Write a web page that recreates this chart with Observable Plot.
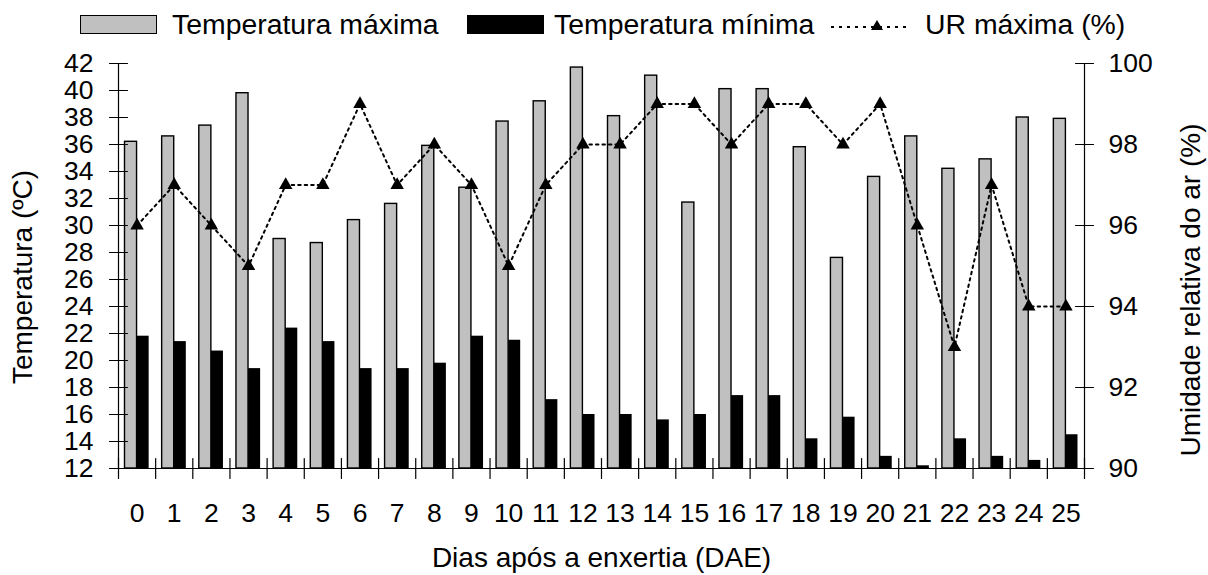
<!DOCTYPE html>
<html><head><meta charset="utf-8">
<script src="https://cdn.jsdelivr.net/npm/d3@7"></script>
<script src="https://cdn.jsdelivr.net/npm/@observablehq/plot@0.6"></script>
<style>
body{margin:0;background:#fff;font-family:"Liberation Sans",Arial,sans-serif;color:#000;}
#legend{position:relative;height:48px;width:1208px;font-size:28.4px;}
.item{position:absolute;top:0;height:48px;display:flex;align-items:center;white-space:nowrap;}
.sw{width:77px;height:19px;box-sizing:border-box;border:1.5px solid #000;}
</style></head><body>
<div id="legend">
  <div class="item" style="left:80px"><div class="sw" style="background:#c0c0c0;margin-right:15px"></div><span>Temperatura máxima</span></div>
  <div class="item" style="left:467px"><div class="sw" style="background:#000;margin-right:10px"></div><span>Temperatura mínima</span></div>
  <div class="item" style="left:830px"><svg width="82" height="20" style="margin-right:13px"><line x1="1" y1="13" x2="81" y2="13" stroke="#000" stroke-width="2" stroke-dasharray="3,5"/><path d="M47,6 L53,16 L41,16 Z" fill="#000"/></svg><span>UR máxima (%)</span></div>
</div>
<div id="chart"></div>
<script>
const days = [0,1,2,3,4,5,6,7,8,9,10,11,12,13,14,15,16,17,18,19,20,21,22,23,24,25];
const tMax = [36.2,36.6,37.4,39.8,29.0,28.7,30.4,31.6,35.9,32.8,37.7,39.2,41.7,38.1,41.1,31.7,40.1,40.1,35.8,27.6,33.6,36.6,34.2,34.9,38.0,37.9];
const tMin = [21.8,21.4,20.7,19.4,22.4,21.4,19.4,19.4,19.8,21.8,21.5,17.1,16.0,16.0,15.6,16.0,17.4,17.4,14.2,15.8,12.9,12.2,14.2,12.9,12.6,14.5];
const ur = [96,97,96,95,97,97,99,97,98,97,95,97,98,98,99,99,98,99,99,98,99,96,93,97,94,94];
const tTicks = [12,14,16,18,20,22,24,26,28,30,32,34,36,38,40,42];
const urTicks = [90,92,94,96,98,100];
const xTitle = "Dias após a enxertia (DAE)";
const yTitle = "Temperatura (ºC)";
const y2Title = "Umidade relativa do ar (%)";

const data = days.map((d,i)=>({day:d, max:tMax[i], min:tMin[i], ur:ur[i]}));
const toT = u => 12 + (u - 90) * 3;
const xDomain = [days[0] - 0.5, days[days.length-1] + 0.5];
const yDomain = [tTicks[0], tTicks[tTicks.length-1]];
const boundaries = [...days.map(d => d - 0.5), xDomain[1]];
const tickShape = {draw(ctx, l){ ctx.moveTo(0, 0); ctx.lineTo(0, -l); }};

const chart = Plot.plot({
  width:1208, height:527, marginLeft:118, marginRight:124, marginTop:15, marginBottom:107,
  style:{fontFamily:"Liberation Sans, Arial, sans-serif", fontSize:"26.5px", color:"#000", background:"#fff", overflow:"visible"},
  x:{domain:xDomain},
  y:{domain:yDomain},
  marks:[
    Plot.rectY(data,{x1:d=>d.day-0.5, x2:d=>d.day+0.5, y1:yDomain[0], y2:"max", insetLeft:6.5, insetRight:18.6, fill:"#c0c0c0", stroke:"#000", strokeWidth:1.4}),
    Plot.rectY(data,{x1:d=>d.day-0.5, x2:d=>d.day+0.5, y1:yDomain[0], y2:"min", insetLeft:18.6, insetRight:6.5, fill:"#000"}),
    Plot.line(data,{x:"day", y:d=>toT(d.ur), stroke:"#000", strokeWidth:2, strokeDasharray:"2.5,4"}),
    Plot.dot(data,{x:"day", y:d=>toT(d.ur), symbol:"triangle", r:5, fill:"#000", stroke:null}),
    Plot.ruleX(xDomain,{stroke:"#000", strokeWidth:1.2}),
    Plot.ruleY([yDomain[0]],{stroke:"#000", strokeWidth:1.2}),
    Plot.vector(tTicks,{x:xDomain[0], y:d=>d, length:18, rotate:90, anchor:"middle", shape:tickShape, stroke:"#000", strokeWidth:1.2}),
    Plot.vector(urTicks,{x:xDomain[1], y:d=>toT(d), length:18, rotate:90, anchor:"middle", shape:tickShape, stroke:"#000", strokeWidth:1.2}),
    Plot.vector(boundaries,{x:d=>d, y:yDomain[0], length:20, rotate:0, anchor:"middle", shape:tickShape, stroke:"#000", strokeWidth:1.2}),
    Plot.axisY(tTicks,{anchor:"left", tickSize:0, tickPadding:25, fontSize:26.5, label:null}),
    Plot.axisY(urTicks.map(toT),{anchor:"right", tickSize:0, tickPadding:24, fontSize:26.5, label:null, tickFormat:t=>String(Math.round(90+(t-12)/3))}),
    Plot.axisX(days,{anchor:"bottom", tickSize:0, tickPadding:35, fontSize:26.5, label:null, tickFormat:d=>String(d)}),
    Plot.text([xTitle],{frameAnchor:"bottom", dy:89.5, fontSize:28, textAnchor:"middle", lineAnchor:"middle"}),
    Plot.text([yTitle],{frameAnchor:"left", rotate:-90, dx:-95, dy:11, fontSize:28, textAnchor:"middle", lineAnchor:"middle"}),
    Plot.text([y2Title],{frameAnchor:"right", rotate:-90, dx:107, dy:24, fontSize:28, textAnchor:"middle", lineAnchor:"middle"})
  ]
});
document.getElementById("chart").appendChild(chart);
</script>
</body></html>
